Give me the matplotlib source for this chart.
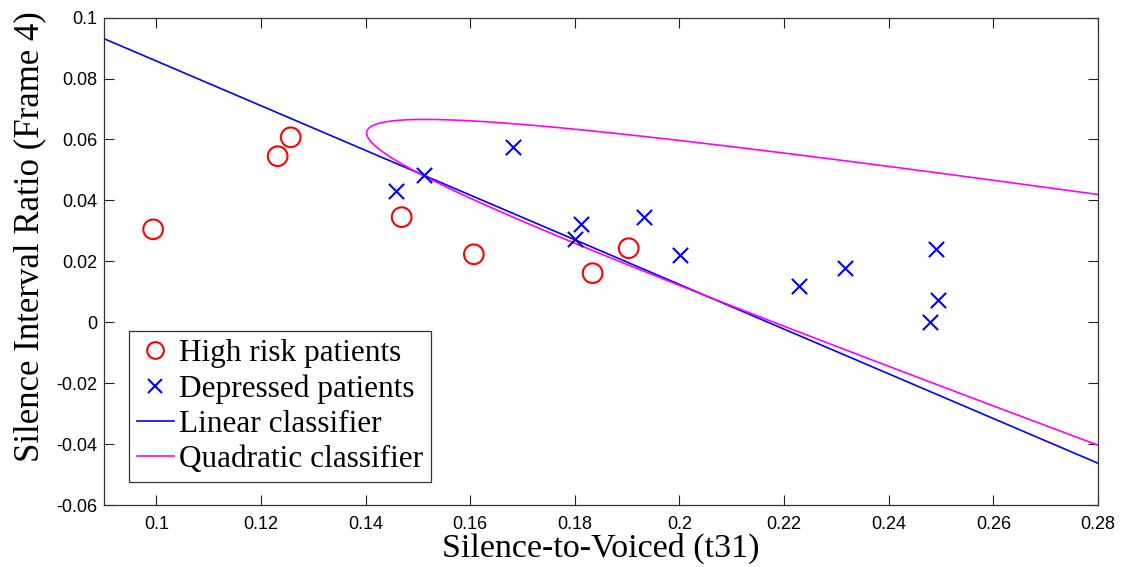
import numpy as np
import matplotlib
matplotlib.use("Agg")
import matplotlib.pyplot as plt
from matplotlib.lines import Line2D

# Feature values per subject: x = silence-to-voiced (t31), y = silence interval ratio (frame 4)
high_risk_x = [0.0994, 0.1232, 0.1257, 0.1469, 0.1607, 0.1834, 0.1903]
high_risk_y = [0.0305, 0.0545, 0.0607, 0.0345, 0.0223, 0.0161, 0.0243]

depressed_x = [0.1458, 0.1511, 0.1681, 0.1801, 0.1811, 0.1933, 0.2002,
               0.2229, 0.2317, 0.2491, 0.2478, 0.2495]
depressed_y = [0.0430, 0.0482, 0.0574, 0.0272, 0.0322, 0.0345, 0.0220,
               0.0118, 0.0177, 0.0240, 0.0000, 0.0072]

# Linear boundary: K + L1*x + L2*y = 0
lin_K, lin_L1, lin_L2 = -0.1591, 0.7335, 1.0

# Quadratic boundary in scaled coords u=(x-0.19)/0.1, v=y/0.05:
# a*u^2 + b*u*v + c*v^2 + d*u + e*v + f = 0
quad_coef = [1.36452, 3.75800, 2.14214, -3.94977, -3.45036, 1.0]
quad_shift_x, quad_scale_x, quad_scale_y = 0.19, 0.1, 0.05

x_ticks = [0.1, 0.12, 0.14, 0.16, 0.18, 0.2, 0.22, 0.24, 0.26, 0.28]
y_ticks = [-0.06, -0.04, -0.02, 0, 0.02, 0.04, 0.06, 0.08, 0.1]
x_tick_labels = ["0.1", "0.12", "0.14", "0.16", "0.18", "0.2", "0.22", "0.24", "0.26", "0.28"]
y_tick_labels = ["-0.06", "-0.04", "-0.02", "0", "0.02", "0.04", "0.06", "0.08", "0.1"]

plt.rcParams["font.family"] = ["Liberation Sans", "DejaVu Sans"]

fig = plt.figure(figsize=(11.25, 5.67), dpi=100)
ax = fig.add_axes([0.0924, 0.1093, 0.8836, 0.8597])
xmin, xmax = 0.09, 0.28
ymin, ymax = -0.06, 0.1
ax.set_xlim(xmin, xmax)
ax.set_ylim(ymin, ymax)

# Decision boundaries
xs = np.linspace(xmin, xmax, 400)
ax.plot(xs, -(lin_K + lin_L1 * xs) / lin_L2, color="#0000ff", lw=1.2, zorder=2)

gx, gy = np.meshgrid(np.linspace(xmin, xmax, 800), np.linspace(ymin, ymax, 800))
gu = (gx - quad_shift_x) / quad_scale_x
gv = gy / quad_scale_y
a, b, c, d, e, f = quad_coef
Z = a * gu * gu + b * gu * gv + c * gv * gv + d * gu + e * gv + f
ax.contour(gx, gy, Z, levels=[0], colors="#ff00ff", linewidths=1.2, zorder=2)

# Subjects
ax.scatter(high_risk_x, high_risk_y, s=200, facecolors="none", edgecolors="#ff0000",
           linewidths=1.5, marker="o", zorder=3)
ax.scatter(depressed_x, depressed_y, s=120, color="#0000ff", linewidths=1.5,
           marker="x", zorder=3)

ax.set_xticks(x_ticks)
ax.set_xticklabels(x_tick_labels)
ax.set_yticks(y_ticks)
ax.set_yticklabels(y_tick_labels)
ax.tick_params(direction="in", length=7, width=0.8, top=True, right=True,
               labelsize=13, colors="#222222", labelcolor="black")
ax.tick_params(axis="x", pad=8)
ax.tick_params(axis="y", pad=5)
for sp in ax.spines.values():
    sp.set_color("#333333")
    sp.set_linewidth(0.9)

serif = ["Liberation Serif", "DejaVu Serif"]
ax.set_xlabel("Silence-to-Voiced (t31)", family=serif, fontsize=24.5, labelpad=0)
ax.set_ylabel("Silence Interval Ratio (Frame 4)", family=serif, fontsize=25, labelpad=6)
ax.yaxis.set_label_coords(-0.058, 0.55)

handles = [
    Line2D([], [], ls="none", marker="o", ms=12, mfc="none", mec="#ff0000", mew=1.5),
    Line2D([], [], ls="none", marker="x", ms=10, color="#0000ff", mew=1.5),
    Line2D([], [], color="#0000ff", lw=1.2),
    Line2D([], [], color="#ff00ff", lw=1.2),
]
labels = ["High risk patients", "Depressed patients", "Linear classifier", "Quadratic classifier"]
leg = ax.legend(handles, labels, loc="lower left", bbox_to_anchor=(0.025, 0.047),
                borderaxespad=0, prop={"family": serif, "size": 22.5},
                frameon=True, fancybox=False, edgecolor="#333333", framealpha=1,
                handlelength=1.2, handletextpad=0.15, labelspacing=0.2,
                borderpad=0.25)
leg.get_frame().set_linewidth(0.9)

fig.savefig("out.png", dpi=100)
